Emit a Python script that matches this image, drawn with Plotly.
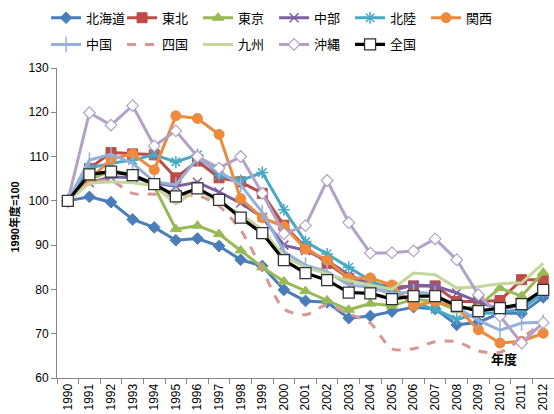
import plotly.graph_objects as go

years = [str(y) for y in range(1990, 2013)]

hokkaido = [100, 100.9, 99.7, 95.8, 94.0, 91.1, 91.5, 89.8, 86.7, 85.3, 79.9, 77.4, 77.1, 73.5, 74.0, 75.0, 76.0, 75.6, 72.0, 72.6, 74.6, 74.6, 78.2]
tohoku = [100, 107.3, 110.9, 110.6, 110.4, 105.2, 109.0, 105.2, 104.3, 101.7, 94.5, 89.5, 85.9, 82.5, 81.5, 80.5, 80.8, 80.8, 77.3, 77.3, 77.5, 82.2, 82.2]
tokyo = [100, 104.8, 106.8, 106.0, 103.2, 93.6, 94.4, 92.5, 88.8, 85.0, 81.8, 79.6, 77.5, 75.4, 76.8, 76.3, 77.8, 77.3, 75.3, 76.3, 80.3, 78.5, 83.8]
chubu = [100, 104.1, 105.4, 105.3, 104.0, 103.3, 104.2, 102.0, 99.5, 96.3, 90.0, 88.8, 86.5, 83.3, 81.2, 79.7, 81.0, 80.8, 79.2, 77.2, 75.5, 76.5, 78.8]
hokuriku = [100, 107.4, 108.5, 109.2, 110.4, 108.8, 110.4, 105.8, 104.6, 106.4, 98.0, 90.8, 88.0, 85.0, 82.0, 79.8, 77.0, 75.5, 73.3, 74.5, 74.8, 75.5, 79.2]
kansai = [100, 104.7, 109.4, 110.6, 107.0, 119.2, 118.6, 115.0, 100.5, 96.2, 94.2, 89.1, 86.6, 82.5, 82.6, 81.0, 76.3, 77.3, 76.0, 70.9, 67.9, 68.3, 70.1]
chugoku = [100, 109.2, 110.5, 108.5, 104.3, 103.6, 109.6, 106.6, 103.6, 97.4, 88.5, 85.5, 84.0, 81.0, 80.5, 79.0, 79.5, 79.0, 76.0, 73.0, 70.8, 72.4, 72.6]
shikoku = [100, 104.0, 104.5, 101.7, 101.5, 101.0, 101.2, 98.8, 93.4, 84.5, 75.6, 74.3, 76.5, 74.5, 72.4, 66.6, 66.6, 68.2, 68.2, 66.1, 65.8, 69.0, 72.5]
kyushu = [100, 104.0, 104.3, 104.1, 103.4, 99.3, 102.5, 99.6, 97.0, 93.5, 87.5, 85.0, 83.5, 82.0, 81.0, 80.0, 83.7, 83.3, 80.3, 80.6, 81.3, 81.5, 85.9]
okinawa = [100, 119.9, 117.1, 121.5, 112.4, 115.8, 110.0, 107.4, 110.0, 101.7, 92.6, 94.4, 104.6, 95.1, 88.2, 88.3, 88.7, 91.4, 86.7, 78.8, 74.0, 67.9, 72.5]
national = [100, 106.0, 106.6, 105.8, 103.8, 101.0, 102.8, 100.2, 96.2, 92.7, 86.6, 83.7, 82.1, 79.3, 79.1, 77.8, 78.5, 78.5, 76.3, 75.1, 75.8, 76.7, 79.9]

names = ["北海道", "東北", "東京", "中部", "北陸", "関西", "中国", "四国", "九州", "沖縄", "全国"]
series = [hokkaido, tohoku, tokyo, chubu, hokuriku, kansai, chugoku, shikoku, kyushu, okinawa, national]

colors = ["#4A7EBB", "#BE4B48", "#98B954", "#7D60A0", "#46AAC5", "#EE8A3C",
          "#93B1DA", "#D99694", "#C3D69B", "#B0A2C8", "#000000"]

markers = [
    dict(symbol="diamond", size=9, color=colors[0], line=dict(width=1, color=colors[0])),
    dict(symbol="square", size=10, color=colors[1], line=dict(width=1, color=colors[1])),
    dict(symbol="triangle-up", size=10, color=colors[2], line=dict(width=1, color=colors[2])),
    dict(symbol="x-thin", size=9, color=colors[3], line=dict(width=1.5, color=colors[3])),
    dict(symbol="asterisk", size=10, color=colors[4], line=dict(width=1.5, color=colors[4])),
    dict(symbol="circle", size=10, color=colors[5], line=dict(width=1, color=colors[5])),
    dict(symbol="line-ns", size=11, color=colors[6], line=dict(width=1.5, color=colors[6])),
    None,
    None,
    dict(symbol="diamond", size=9, color="white", line=dict(width=1.2, color=colors[9])),
    dict(symbol="square", size=11, color="white", line=dict(width=1.3, color="#333333")),
]

fig = go.Figure()
for i, (nm, vals) in enumerate(zip(names, series)):
    mk = markers[i]
    line = dict(color=colors[i], width=3.2 if i == 10 else 3)
    if i == 7:
        line.update(dash="dash", shape="spline", smoothing=0.8)
    fig.add_trace(go.Scatter(
        x=years, y=vals, name=nm,
        mode="lines+markers" if mk else "lines",
        line=line,
        marker=mk if mk else None,
        legend="legend" if i < 6 else "legend2",
    ))

font = "Liberation Sans, Noto Sans CJK JP, sans-serif"
legend_common = dict(orientation="h", xanchor="left", yanchor="middle",
                     font=dict(size=13, color="#000", family=font),
                     bgcolor="rgba(0,0,0,0)", entrywidth=31, tracegroupgap=0)

fig.update_layout(
    width=554, height=414,
    margin=dict(l=57, r=0, t=68, b=36, autoexpand=False),
    paper_bgcolor="white", plot_bgcolor="white",
    font=dict(family=font, size=12, color="#000"),
    showlegend=True,
    legend=dict(x=-0.022, y=1.162, **legend_common),
    legend2=dict(x=-0.022, y=1.076, **legend_common),
    xaxis=dict(type="category", range=[-0.5, 22.5], showgrid=False, zeroline=False,
               showline=True, linecolor="#868686", linewidth=1,
               ticks="outside", tickson="boundaries", ticklen=5, tickcolor="#868686",
               tickangle=-90, tickfont=dict(size=12, color="#000"), automargin=False),
    yaxis=dict(range=[60, 130], dtick=10, showgrid=False, zeroline=False,
               showline=True, linecolor="#868686", linewidth=1,
               ticks="outside", ticklen=5, tickcolor="#868686",
               tickfont=dict(size=12, color="#000"), automargin=False),
    annotations=[
        dict(text="<b>1990年度=100</b>", xref="paper", yref="paper",
             x=-0.085, y=0.52, xanchor="center", yanchor="middle",
             textangle=-90, showarrow=False, font=dict(size=11, color="#000")),
        dict(text="<b>年度</b>", xref="paper", yref="paper",
             x=0.9, y=0.06, xanchor="center", yanchor="middle",
             showarrow=False, font=dict(size=13, color="#000")),
    ],
)

fig.write_html("out.html", config={"displayModeBar": False},
               post_script="document.body.style.margin='0';document.body.style.overflow='hidden';")
